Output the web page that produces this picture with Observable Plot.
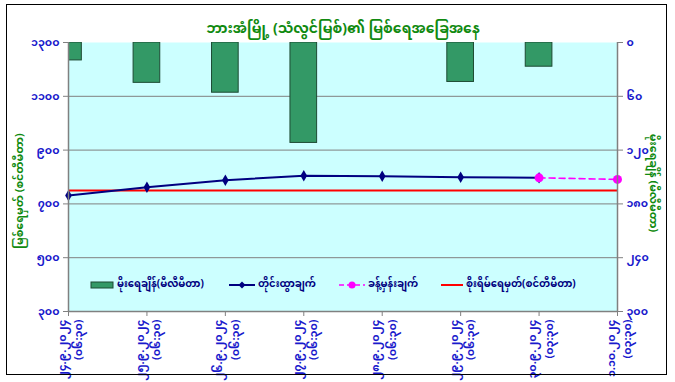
<!DOCTYPE html>
<html><head><meta charset="utf-8">
<script src="https://cdn.jsdelivr.net/npm/d3@7"></script>
<script src="https://cdn.jsdelivr.net/npm/@observablehq/plot@0.6"></script>
<style>
body{margin:0;background:#fff;}
#wrap{position:relative;width:675px;height:382px;font-family:"Noto Sans Myanmar","Padauk","Myanmar Text","Noto Sans",sans-serif;}
#border{position:absolute;left:6px;top:4px;width:659px;height:369px;border:1px solid #000;pointer-events:none;}
.leg{position:absolute;top:277px;height:16px;display:flex;align-items:center;font-size:10px;font-weight:bold;color:#000080;white-space:nowrap;}
.leg svg{margin-right:3px;}
</style></head>
<body><div id="wrap"><div id="chart"></div><div id="border"></div><div id="legend"></div></div>
<script>
// ---- data ----
const dates = ["၂၄.၉.၂၀၂၄","၂၅.၉.၂၀၂၄","၂၆.၉.၂၀၂၄","၂၇.၉.၂၀၂၄","၂၈.၉.၂၀၂၄","၂၉.၉.၂၀၂၄","၃၀.၉.၂၀၂၄","၁.၁၀.၂၀၂၄"];
const times = ["(၀၆:၃၀)","(၀၆:၃၀)","(၀၆:၃၀)","(၀၆:၃၀)","(၀၆:၃၀)","(၀၆:၃၀)","(၀၃:၃၀)","(၀၃:၃၀)"];
const waterLevel = [731, 762, 788, 805, 803, 799, 797, null];   // cm, observed
const forecastLevel = [null, null, null, null, null, null, 797, 791]; // cm, forecast
const rainfall = [20, 45, 56, 112, 0, 44, 27, null];          // mm
const dangerLevel = 750;                                         // cm
const levelTicks = [300, 500, 700, 900, 1100, 1300];
const rainTicks = [0, 60, 120, 180, 240, 300];
const titleText = "ဘားအံမြို့ (သံလွင်မြစ်)၏ မြစ်ရေအခြေအနေ";
const leftTitle = "မြစ်ရေမှတ် (စင်တီမီတာ)";
const rightTitle = "မိုးရေချိန် (မီလီမီတာ)";
const legendLabels = ["မိုးရေချိန်(မီလီမီတာ)","တိုင်းထွာချက်","ခန့်မှန်းချက်","စိုးရိမ်ရေမှတ်(စင်တီမီတာ)"];

// ---- helpers ----
const mmDigits = "၀၁၂၃၄၅၆၇၈၉";
const toMM = n => String(n).replace(/\d/g, d => mmDigits[+d]);
const rainToLevel = d3.scaleLinear().domain([0, 300]).range([1300, 300]);

const idx = d3.range(dates.length);
const observed = idx.filter(i => waterLevel[i] != null).map(i => ({i, v: waterLevel[i]}));
const forecast = idx.filter(i => forecastLevel[i] != null).map(i => ({i, v: forecastLevel[i]}));
const rain = idx.filter(i => rainfall[i]).map(i => ({i, r: rainfall[i]}));
const bw = 0.34;
const font = '"Noto Sans Myanmar","Padauk","Myanmar Text","Noto Sans",sans-serif';
const blue = "#1a1acc", green = "#108a10", grid = "#808080";

const chart = Plot.plot({
  width: 675, height: 382,
  marginLeft: 68, marginRight: 58, marginTop: 42, marginBottom: 71,
  style: {fontFamily: font, background: "transparent"},
  x: {type: "linear", domain: [0, dates.length - 1]},
  y: {domain: [300, 1300]},
  marks: [
    Plot.frame({fill: "#ccffff", stroke: "none"}),
    Plot.ruleY(levelTicks.filter(v => v > 300 && v < 1300), {stroke: grid, strokeWidth: 1}),
    Plot.rect(rain, {x1: d => d.i - bw / 2, x2: d => d.i + bw / 2, y1: rainToLevel(0), y2: d => rainToLevel(d.r),
      fill: "#339966", stroke: "#1d4a33", strokeWidth: 1, clip: true}),
    Plot.ruleY([dangerLevel], {stroke: "#ff0000", strokeWidth: 2}),
    Plot.line(observed, {x: "i", y: "v", stroke: "#000080", strokeWidth: 2}),
    Plot.dot(observed, {x: "i", y: "v", symbol: "diamond", fill: "#000080", r: 3.5}),
    Plot.line(forecast, {x: "i", y: "v", stroke: "#ff00ff", strokeWidth: 1.6, strokeDasharray: "6,4"}),
    Plot.dot(forecast, {x: "i", y: "v", fill: "#ff00ff", r: 4.5}),
    Plot.ruleX([0, dates.length - 1], {stroke: grid, strokeWidth: 1.5}),
    Plot.ruleY([300], {stroke: grid, strokeWidth: 1.5}),
    Plot.axisY({ticks: levelTicks, tickFormat: toMM, tickSize: 5, tickPadding: 4, stroke: grid, fill: blue,
      fontSize: 11, fontWeight: "bold", label: null}),
    Plot.axisY({anchor: "right", ticks: rainTicks.map(rainToLevel), tickFormat: v => toMM(Math.round(rainToLevel.invert(v))),
      tickSize: 5, tickPadding: 4, stroke: grid, fill: blue, fontSize: 11, fontWeight: "bold", label: null}),
    Plot.axisX({ticks: idx, tickFormat: i => dates[i] + "\n" + times[i], tickRotate: -90, tickSize: 5, tickPadding: 3,
      stroke: grid, fill: blue, fontSize: 11, fontWeight: "bold", lineHeight: 1.5, label: null}),
    Plot.text([titleText], {frameAnchor: "top", dy: -19, fontSize: 14, fontWeight: "bold", fill: green}),
    Plot.text([leftTitle], {frameAnchor: "left", textAnchor: "middle", dx: -49, dy: 14, rotate: -90, fontSize: 11, fontWeight: "bold", fill: green}),
    Plot.text([rightTitle], {frameAnchor: "right", textAnchor: "middle", dx: 36, dy: 6, rotate: 90, fontSize: 11, fontWeight: "bold", fill: green})
  ]
});
document.getElementById("chart").append(chart);

// ---- legend ----
const swatches = [
  '<svg width="24" height="10"><rect x="1" y="2" width="22" height="6" fill="#339966" stroke="#1d4a33"/></svg>',
  '<svg width="26" height="10"><line x1="0" y1="5" x2="26" y2="5" stroke="#000080" stroke-width="2"/><path d="M13,1.5L16.5,5L13,8.5L9.5,5Z" fill="#000080"/></svg>',
  '<svg width="26" height="10"><line x1="0" y1="5" x2="26" y2="5" stroke="#ff00ff" stroke-width="1.6" stroke-dasharray="5,3"/><circle cx="13" cy="5" r="3.5" fill="#ff00ff"/></svg>',
  '<svg width="22" height="10"><line x1="0" y1="5" x2="22" y2="5" stroke="#ff0000" stroke-width="2"/></svg>'
];
const legendX = [90, 229, 339, 441];
const legend = document.getElementById("legend");
legendLabels.forEach((t, k) => {
  const d = document.createElement("div");
  d.className = "leg";
  d.style.left = legendX[k] + "px";
  d.innerHTML = swatches[k] + "<span>" + t + "</span>";
  legend.append(d);
});
</script>
</body></html>
